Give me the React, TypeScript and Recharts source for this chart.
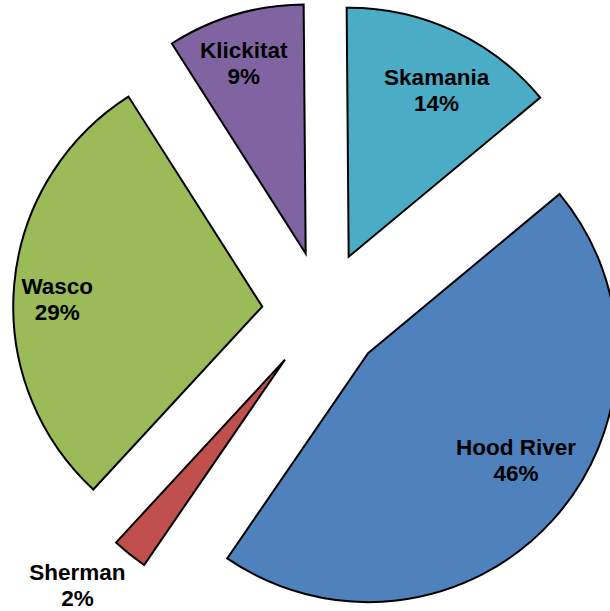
import { Pie, PieChart, Sector, Cell } from "recharts";

const counties = ["Skamania", "Hood River", "Sherman", "Wasco", "Klickitat"];
const shares = [14.1, 45.6, 2.3, 29.1, 8.9];
const colors = ["#4BACC6", "#4F81BD", "#C0504D", "#9BBB59", "#8064A2"];

const data = counties.map((name, i) => ({ name, value: shares[i] }));

const RAD = Math.PI / 180;
const EXPLODE = 61;

// label placement tweaks, relative to each slice's own (exploded) centre
const labelPos: Record<string, { r: number; turn: number }> = {
  Skamania: { r: 0.757, turn: 2.9 },
  "Hood River": { r: 0.733, turn: -6.5 },
  Sherman: { r: 1.229, turn: 4.1 },
  Wasco: { r: 0.824, turn: -2.9 },
  Klickitat: { r: 0.806, turn: -1.5 },
};

function shift(cx: number, cy: number, angle: number, dist: number) {
  return {
    x: cx + dist * Math.cos(-angle * RAD),
    y: cy + dist * Math.sin(-angle * RAD),
  };
}

function ExplodedSector(props: any) {
  const c = shift(props.cx, props.cy, props.midAngle, EXPLODE);
  return <Sector {...props} cx={c.x} cy={c.y} />;
}

function SliceLabel(props: any) {
  const { cx, cy, midAngle, outerRadius, name, percent } = props;
  const c = shift(cx, cy, midAngle, EXPLODE);
  const cfg = labelPos[name] ?? { r: 0.75, turn: 0 };
  const p = shift(c.x, c.y, midAngle - cfg.turn, outerRadius * cfg.r);
  return (
    <text
      x={p.x}
      y={p.y - 5}
      textAnchor="middle"
      fill="#000"
      fontFamily="'Liberation Sans', Arial, sans-serif"
      fontWeight="bold"
      fontSize={22.5}
    >
      <tspan x={p.x} y={p.y - 5}>
        {name}
      </tspan>
      <tspan x={p.x} y={p.y + 21}>
        {`${Math.round(percent * 100)}%`}
      </tspan>
    </text>
  );
}

export default function App() {
  return (
    <div style={{ position: "absolute", left: 0, top: 0, width: 610, height: 611, background: "#fff" }}>
      <PieChart width={610} height={611} margin={{ top: 0, right: 0, bottom: 0, left: 0 }}>
        <Pie
          data={data}
          dataKey="value"
          nameKey="name"
          cx={323}
          cy={312}
          outerRadius={249}
          startAngle={90.47}
          endAngle={-269.53}
          stroke="#000"
          strokeWidth={2}
          shape={ExplodedSector}
          label={SliceLabel}
          labelLine={false}
          isAnimationActive={false}
        >
          {data.map((d, i) => (
            <Cell key={d.name} fill={colors[i]} />
          ))}
        </Pie>
      </PieChart>
    </div>
  );
}
